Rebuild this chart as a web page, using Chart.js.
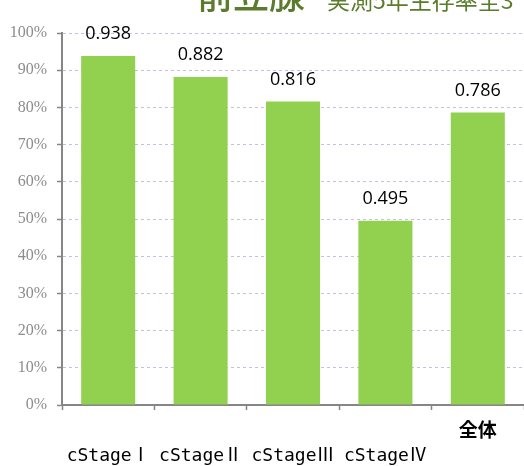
<!DOCTYPE html>
<html lang="ja">
<head>
<meta charset="utf-8">
<script src="https://cdn.jsdelivr.net/npm/chart.js@4/dist/chart.umd.min.js"></script>
<style>
  html, body { margin: 0; padding: 0; background: #fff; }
  canvas { display: block; }
</style>
</head>
<body>
<canvas id="chartSurvival" width="524" height="466"></canvas>
<script>
// 前立腺 実測5年生存率 (ステージ別)
const categories = ['cStageⅠ', 'cStageⅡ', 'cStageⅢ', 'cStageⅣ', '全体'];
const survivalRates = [0.938, 0.882, 0.816, 0.495, 0.786];
const titleMain = '前立腺';
const titleSub = '実測5年生存率全3';

const GREEN = '#92d050';
const AXIS_GRAY = '#868686';

// 棒の上に値を表示
const valueLabels = {
  id: 'valueLabels',
  afterDatasetsDraw(chart) {
    const ctx = chart.ctx;
    const meta = chart.getDatasetMeta(0);
    ctx.save();
    ctx.font = '18px "Open Sans", "Liberation Sans", sans-serif';
    ctx.fillStyle = '#000';
    ctx.textAlign = 'center';
    ctx.textBaseline = 'middle';
    meta.data.forEach((bar, i) => {
      ctx.fillText(survivalRates[i].toFixed(3), bar.x, bar.y - 22);
    });
    ctx.restore();
  }
};

// 上端で切れているタイトル
const clippedTitle = {
  id: 'clippedTitle',
  afterDraw(chart) {
    const ctx = chart.ctx;
    ctx.save();
    ctx.fillStyle = '#5b7b2d';
    ctx.textAlign = 'left';
    ctx.textBaseline = 'alphabetic';
    ctx.font = '500 36px "Noto Sans CJK JP", sans-serif';
    ctx.fillText(titleMain, 197, 9);
    ctx.font = '23px "Noto Sans CJK JP", sans-serif';
    ctx.fillText(titleSub, 327, 9);
    ctx.restore();
  }
};

new Chart(document.getElementById('chartSurvival'), {
  type: 'bar',
  data: {
    // 全体だけ上の段、ステージは下の段に出す
    labels: categories.map((c, i) => i === categories.length - 1 ? [c, ''] : ['', c]),
    datasets: [{
      data: survivalRates,
      backgroundColor: GREEN,
      borderWidth: 0,
      categoryPercentage: 1,
      barPercentage: 0.585
    }]
  },
  options: {
    responsive: false,
    animation: false,
    layout: { padding: { top: 33, left: 0, right: 0, bottom: 0 } },
    plugins: {
      legend: { display: false },
      title: { display: false },
      tooltip: { enabled: false }
    },
    scales: {
      x: {
        afterFit: s => { s.height = 61; },
        grid: {
          drawOnChartArea: false,
          tickLength: 5,
          tickColor: AXIS_GRAY,
          tickWidth: 1.5
        },
        border: { color: AXIS_GRAY, width: 2 },
        ticks: {
          padding: 6,
          color: '#000',
          autoSkip: false,
          maxRotation: 0,
          font: c => c.index === categories.length - 1
            ? { family: '"Noto Sans CJK JP", sans-serif', size: 19, weight: 'bold', lineHeight: '27px' }
            : { family: '"DejaVu Sans Mono", "Noto Sans CJK JP", monospace', size: 18, lineHeight: '27px' }
        }
      },
      y: {
        min: 0,
        max: 1,
        afterFit: s => { s.width = 62; },
        grid: {
          color: c => c.tick && c.tick.value === 0 ? 'rgba(0,0,0,0)' : '#c8bfe0',
          lineWidth: 1,
          tickLength: 5,
          tickColor: AXIS_GRAY,
          tickWidth: 1.5
        },
        border: { color: AXIS_GRAY, width: 2, dash: [3, 3] },
        ticks: {
          stepSize: 0.1,
          padding: 10,
          color: '#8c8c8c',
          font: { family: '"Liberation Serif", serif', size: 16 },
          callback: v => Math.round(v * 100) + '%'
        }
      }
    }
  },
  plugins: [valueLabels, clippedTitle]
});
</script>
</body>
</html>
